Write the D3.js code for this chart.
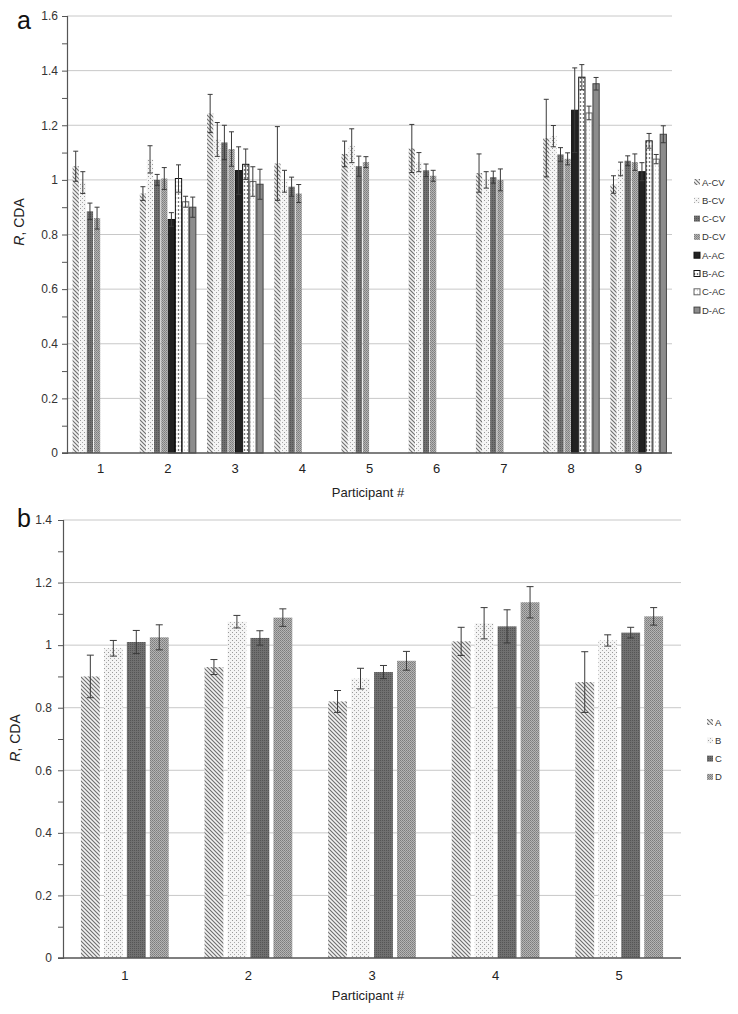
<!DOCTYPE html>
<html><head><meta charset="utf-8">
<script src="https://cdn.jsdelivr.net/npm/d3@7"></script>
<style>
body{margin:0;background:#fff;}
svg{display:block;font-family:"Liberation Sans",Arial,sans-serif;}
</style></head>
<body><svg id="c" width="738" height="1014"></svg>
<script>
// ---------- Data: panel a ----------
const participantsA = ["1","2","3","4","5","6","7","8","9"];
const seriesA = ["A-CV","B-CV","C-CV","D-CV","A-AC","B-AC","C-AC","D-AC"];
const aCV    = [1.05, 0.95, 1.243, 1.06, 1.095, 1.115, 1.025, 1.153, 0.983];
const aCVerr = [0.055,0.025,0.07, 0.135,0.047, 0.088, 0.07, 0.142, 0.032];
const bCV    = [0.99, 1.075,1.148, 0.995,1.125, 1.065, 1.0,  1.16,  1.04];
const bCVerr = [0.04, 0.05, 0.062, 0.04, 0.062, 0.035, 0.03, 0.039, 0.025];
const cCV    = [0.885,1.0,  1.137, 0.975,1.05,  1.035, 1.01, 1.093, 1.07];
const cCVerr = [0.03, 0.02, 0.063, 0.035,0.037, 0.023, 0.022,0.025, 0.018];
const dCV    = [0.86, 1.005,1.113, 0.95, 1.065, 1.015, 1.0,  1.077, 1.065];
const dCVerr = [0.04, 0.04, 0.063, 0.033,0.02,  0.02,  0.04, 0.022, 0.03];
const aAC    = [null, 0.855,1.034, null, null,  null,  null, 1.255, 1.03];
const aACerr = [null, 0.025,0.087, null, null,  null,  null, 0.155, 0.033];
const bAC    = [null, 1.005,1.057, null, null,  null,  null, 1.376, 1.143];
const bACerr = [null, 0.05, 0.056, null, null,  null,  null, 0.046, 0.027];
const cAC    = [null, 0.92, 0.994, null, null,  null,  null, 1.245, 1.076];
const cACerr = [null, 0.02, 0.054, null, null,  null,  null, 0.025, 0.017];
const dAC    = [null, 0.9,  0.984, null, null,  null,  null, 1.352, 1.167];
const dACerr = [null, 0.037,0.055, null, null,  null,  null, 0.023, 0.031];
const yTicksA = [0,0.2,0.4,0.6,0.8,1,1.2,1.4,1.6];

// ---------- Data: panel b ----------
const participantsB = ["1","2","3","4","5"];
const seriesB = ["A","B","C","D"];
const bA    = [0.9,  0.93, 0.82, 1.012, 0.882];
const bAerr = [0.068,0.024,0.035,0.045, 0.097];
const bB    = [0.99, 1.075,0.893,1.07,  1.015];
const bBerr = [0.025,0.02, 0.033,0.05,  0.018];
const bC    = [1.01, 1.023,0.914,1.06,  1.04];
const bCerr = [0.037,0.023,0.021,0.053, 0.017];
const bD    = [1.025,1.088,0.95, 1.137, 1.092];
const bDerr = [0.04, 0.028,0.03, 0.05,  0.028];
const yTicksB = [0,0.2,0.4,0.6,0.8,1,1.2,1.4];

const valsA = [[aCV,aCVerr],[bCV,bCVerr],[cCV,cCVerr],[dCV,dCVerr],[aAC,aACerr],[bAC,bACerr],[cAC,cACerr],[dAC,dACerr]];
const valsB = [[bA,bAerr],[bB,bBerr],[bC,bCerr],[bD,bDerr]];

const svg = d3.select("#c");
const defs = svg.append("defs");

function pat(id, w, h, bg, draw){
  const p = defs.append("pattern").attr("id",id).attr("patternUnits","userSpaceOnUse").attr("width",w).attr("height",h);
  p.append("rect").attr("width",w).attr("height",h).attr("fill",bg);
  draw(p);
}
// A: diagonal hatch
pat("pA",4,4,"#f2f2f2",p=>{
  p.append("path").attr("d","M-1,-1 L5,5 M3,-1 L5,1 M-1,3 L1,5").attr("stroke","#6e6e6e").attr("stroke-width",1.1);
});
// B: light confetti
pat("pB",4,4,"#f4f4f4",p=>{
  p.append("rect").attr("x",0).attr("y",0).attr("width",1).attr("height",1).attr("fill","#999");
  p.append("rect").attr("x",2).attr("y",2).attr("width",1).attr("height",1).attr("fill","#aaa");
});
// C: dark gray fine grid
pat("pC",2,2,"#707070",p=>{
  p.append("rect").attr("x",0).attr("y",0).attr("width",1).attr("height",1).attr("fill","#555");
});
// D: medium gray checker
pat("pD",2,2,"#b4b4b4",p=>{
  p.append("rect").attr("x",0).attr("y",0).attr("width",1).attr("height",1).attr("fill","#7c7c7c");
  p.append("rect").attr("x",1).attr("y",1).attr("width",1).attr("height",1).attr("fill","#8a8a8a");
});
// B-AC: white with dots
pat("pBAC",3,4,"#ffffff",p=>{
  p.append("circle").attr("cx",1.5).attr("cy",2).attr("r",0.8).attr("fill","#333");
});
// C-AC: white with faint dots
pat("pCAC",3,4,"#ffffff",p=>{
  p.append("circle").attr("cx",1.5).attr("cy",2).attr("r",0.6).attr("fill","#aaa");
});

const styleA = {
  "A-CV":{fill:"url(#pA)",stroke:"none"},
  "B-CV":{fill:"url(#pB)",stroke:"none"},
  "C-CV":{fill:"url(#pC)",stroke:"none"},
  "D-CV":{fill:"url(#pD)",stroke:"none"},
  "A-AC":{fill:"#222",stroke:"#111"},
  "B-AC":{fill:"url(#pBAC)",stroke:"#111"},
  "C-AC":{fill:"url(#pCAC)",stroke:"#666"},
  "D-AC":{fill:"#8c8c8c",stroke:"#444"}
};
const styleB = {
  "A":{fill:"url(#pA)",stroke:"none"},
  "B":{fill:"url(#pB)",stroke:"none"},
  "C":{fill:"url(#pC)",stroke:"none"},
  "D":{fill:"url(#pD)",stroke:"none"}
};

function panel(cfg){
  const g = svg.append("g");
  const y = d3.scaleLinear().domain([0,cfg.ymax]).range([cfg.bottom,cfg.top]);
  const x0 = d3.scaleBand().domain(cfg.cats).range([cfg.left,cfg.right]).padding(0);
  const bw = x0.bandwidth();
  const x1 = d3.scaleBand().domain(cfg.series).range([bw*cfg.inset, bw*(1-cfg.inset)]).paddingInner(cfg.barPad);

  // gridlines
  g.append("g").selectAll("line").data(cfg.yTicks.filter(d=>d>0)).join("line")
    .attr("x1",cfg.left).attr("x2",cfg.right).attr("y1",d=>y(d)).attr("y2",d=>y(d))
    .attr("stroke","#c8c8c8").attr("stroke-width",1);

  // y axis with ticks every 0.1
  const minor = d3.range(0, Math.round(cfg.ymax*10)+1).map(i=>i/10);
  const ax = d3.axisLeft(y).tickValues(minor).tickSize(5).tickPadding(cfg.tickPad)
    .tickFormat(d=> (Math.round(d*10)%2===0) ? String(+d.toFixed(1)) : "");
  const ay = g.append("g").attr("transform",`translate(${cfg.left},0)`).call(ax);
  ay.select(".domain").attr("stroke","#555").attr("stroke-width",1.2);
  ay.selectAll(".tick line").attr("stroke","#555");
  ay.selectAll("text").attr("font-size",cfg.tickFont).attr("fill","#333").attr("font-family","Liberation Sans, Arial, sans-serif");

  // bars
  const data = [];
  cfg.cats.forEach((c,ci)=>cfg.series.forEach((s,si)=>{
    const v = cfg.vals[si][0][ci];
    if(v!=null) data.push({c,s,v,e:cfg.vals[si][1][ci]});
  }));
  const bars = g.append("g");
  bars.selectAll("rect").data(data).join("rect")
    .attr("x",d=>x0(d.c)+x1(d.s)).attr("width",x1.bandwidth())
    .attr("y",d=>y(d.v)).attr("height",d=>y(0)-y(d.v))
    .attr("fill",d=>cfg.style[d.s].fill)
    .attr("stroke",d=>cfg.style[d.s].stroke).attr("stroke-width",1);

  // x axis line
  g.append("line").attr("x1",cfg.left-5).attr("x2",cfg.right).attr("y1",y(0)).attr("y2",y(0))
    .attr("stroke","#555").attr("stroke-width",1.4);

  // error bars
  const eb = g.append("g").attr("stroke","#3a3a3a").attr("stroke-width",1);
  data.forEach(d=>{
    const cx = x0(d.c)+x1(d.s)+x1.bandwidth()/2;
    eb.append("line").attr("x1",cx).attr("x2",cx).attr("y1",y(d.v+d.e)).attr("y2",y(d.v-d.e));
    [d.v+d.e,d.v-d.e].forEach(t=>eb.append("line").attr("x1",cx-cfg.cap).attr("x2",cx+cfg.cap).attr("y1",y(t)).attr("y2",y(t)));
  });

  // category labels
  g.append("g").selectAll("text").data(cfg.cats).join("text")
    .attr("x",d=>x0(d)+bw/2).attr("y",y(0)+cfg.catDy).attr("text-anchor","middle")
    .attr("font-size",13).attr("fill","#222").text(d=>d);
  // x title
  g.append("text").attr("x",cfg.xTitleX).attr("y",cfg.xTitleY).attr("text-anchor","middle")
    .attr("font-size",13).attr("fill","#222").text("Participant #");
  // y title
  const yt = g.append("text").attr("transform",`translate(${cfg.yTitleX},${cfg.yTitleY}) rotate(-90)`)
    .attr("text-anchor","middle").attr("font-size",14).attr("fill","#222");
  yt.append("tspan").attr("font-style","italic").text("R");
  yt.append("tspan").text(", CDA");
  // panel letter
  g.append("text").attr("x",17).attr("y",cfg.letterY).attr("font-size",25).attr("fill","#111").text(cfg.letter);

  // legend
  const lg = g.append("g");
  cfg.series.forEach((s,i)=>{
    const ly = cfg.legY + i*cfg.legStep;
    lg.append("rect").attr("x",cfg.legX).attr("y",ly-3).attr("width",6).attr("height",6)
      .attr("fill",cfg.style[s].fill).attr("stroke",cfg.style[s].stroke==="none"?"none":cfg.style[s].stroke);
    lg.append("text").attr("x",cfg.legX+8).attr("y",ly+3.5).attr("font-size",9.5).attr("fill","#333").text(s);
  });
}

panel({cats:participantsA, series:seriesA, vals:valsA, style:styleA, ymax:1.6, yTicks:yTicksA,
  top:16, bottom:453, left:67, right:672, inset:0.083, barPad:0.12, cap:2.5, tickPad:4, tickFont:12,
  catDy:20, xTitleX:368, xTitleY:497, yTitleX:24, yTitleY:222, letter:"a", letterY:29,
  legX:694, legY:182, legStep:18.3});

panel({cats:participantsB, series:seriesB, vals:valsB, style:styleB, ymax:1.4, yTicks:yTicksB,
  top:520, bottom:958, left:63, right:681, inset:0.145, barPad:0.18, cap:3.5, tickPad:6, tickFont:12,
  catDy:22, xTitleX:368, xTitleY:1000, yTitleX:20, yTitleY:738, letter:"b", letterY:527,
  legX:707, legY:722, legStep:18.3});
</script>
</body></html>
